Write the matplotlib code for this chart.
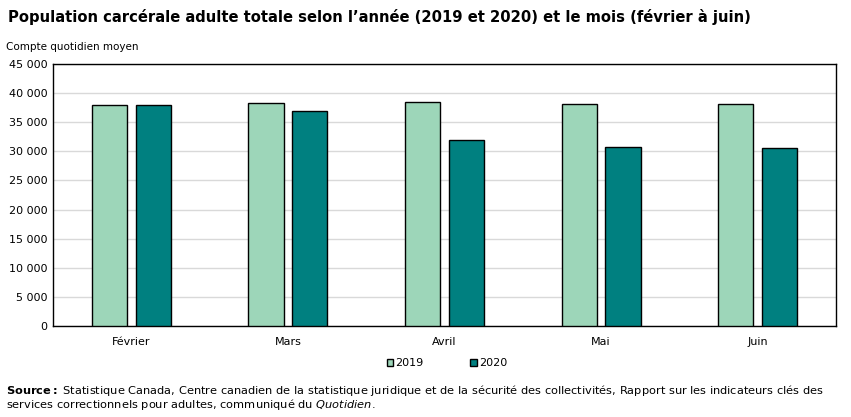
import numpy as np
import matplotlib.pyplot as plt
from matplotlib.ticker import FuncFormatter

mois = ['Février', 'Mars', 'Avril', 'Mai', 'Juin']
val_2019 = [37950, 38250, 38420, 38080, 38080]
val_2020 = [37950, 36880, 31900, 30690, 30520]

couleur_2019 = '#9dd6b9'
couleur_2020 = '#008080'

plt.rcParams['font.family'] = ['DejaVu Sans']

fig = plt.figure(figsize=(8.51, 4.17), dpi=100)
ax = fig.add_axes([53 / 851, 1 - 326 / 417, (836 - 53) / 851, (326 - 64) / 417])

x = np.arange(len(mois))
w = 0.225
ax.bar(x - 0.14, val_2019, w, color=couleur_2019, edgecolor='black', linewidth=1, label='2019', zorder=3)
ax.bar(x + 0.14, val_2020, w, color=couleur_2020, edgecolor='black', linewidth=1, label='2020', zorder=3)

ax.set_xlim(-0.5, len(mois) - 0.5)
ax.set_ylim(0, 45000)
ax.set_yticks(np.arange(0, 45001, 5000))
ax.yaxis.set_major_formatter(FuncFormatter(lambda v, p: '{:,.0f}'.format(v).replace(',', ' ')))
ax.set_xticks(x)
ax.set_xticklabels(mois)
ax.tick_params(axis='both', length=0, labelsize=8)
ax.tick_params(axis='x', pad=8)
ax.tick_params(axis='y', pad=4)
ax.grid(axis='y', color='#d9d9d9', linewidth=1, zorder=0)
for s in ax.spines.values():
    s.set_linewidth(1)

fig.text(8 / 851, 1 - 17 / 417, 'Population carcérale adulte totale selon l\u2019année (2019 et 2020) et le mois (février à juin)',
         fontsize=10.6, fontweight='bold', va='center', ha='left')
fig.text(6 / 851, 1 - 47 / 417, 'Compte quotidien moyen', fontsize=7.5, va='center', ha='left')

leg = fig.legend(loc='center', bbox_to_anchor=(447 / 851, 1 - 363 / 417), ncol=2, frameon=False,
                 fontsize=8, handlelength=0.6, handleheight=0.6, handletextpad=0.2, columnspacing=4.2)

fig.text(6 / 851, 1 - 390 / 417, r'$\bf{Source:}$ Statistique Canada, Centre canadien de la statistique juridique et de la sécurité des collectivités, Rapport sur les indicateurs clés des',
         fontsize=8.2, va='center', ha='left')
fig.text(6 / 851, 1 - 405 / 417, r'services correctionnels pour adultes, communiqué du $\it{Quotidien}$.',
         fontsize=8.2, va='center', ha='left')

fig.savefig('out.png', dpi=100)
